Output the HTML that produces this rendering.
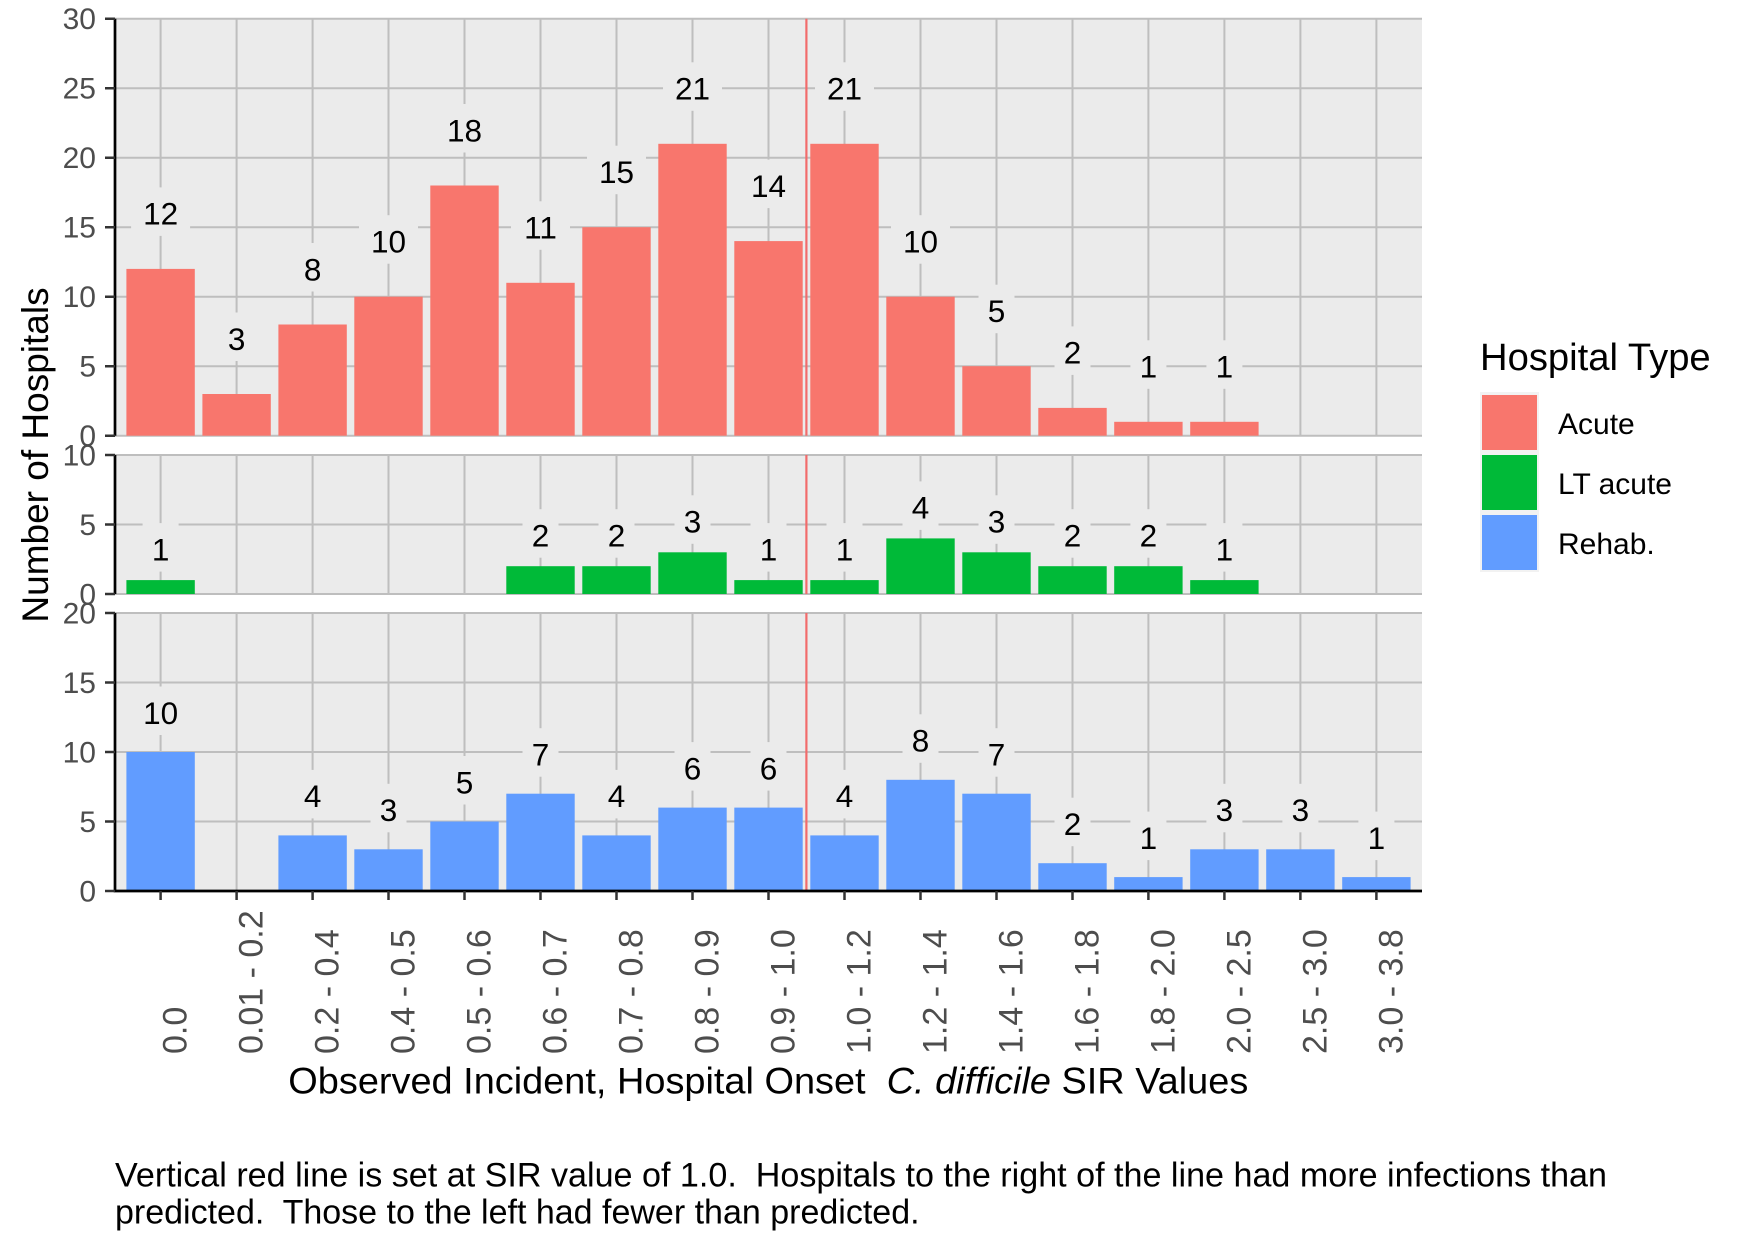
<!DOCTYPE html>
<html><head><meta charset="utf-8"><style>
html,body{margin:0;padding:0;background:#fff;}
svg{display:block;font-family:"Liberation Sans",Arial,sans-serif;}
</style></head><body>
<svg width="1750" height="1250" viewBox="0 0 1750 1250" xmlns="http://www.w3.org/2000/svg">
<rect width="1750" height="1250" fill="#fff"/>
<!-- panels -->
<rect x="115" y="18.7" width="1307" height="417" fill="#EBEBEB"/>
<rect x="115" y="455" width="1307" height="139" fill="#EBEBEB"/>
<rect x="115" y="613" width="1307" height="278" fill="#EBEBEB"/>
<!-- grid -->
<g stroke="#BEBEBE" stroke-width="2" fill="none">
<path d="M115 18.7H1422M115 88.2H1422M115 157.7H1422M115 227.2H1422M115 296.7H1422M115 366.2H1422M115 435.7H1422M115 455H1422M115 524.5H1422M115 594H1422M115 613H1422M115 682.5H1422M115 752H1422M115 821.5H1422M115 891H1422"/>
<path d="M160.6 18.7V435.7M236.6 18.7V435.7M312.6 18.7V435.7M388.5 18.7V435.7M464.5 18.7V435.7M540.5 18.7V435.7M616.5 18.7V435.7M692.5 18.7V435.7M768.5 18.7V435.7M844.5 18.7V435.7M920.5 18.7V435.7M996.5 18.7V435.7M1072.5 18.7V435.7M1148.4 18.7V435.7M1224.4 18.7V435.7M1300.4 18.7V435.7M1376.4 18.7V435.7"/>
<path d="M160.6 455V594M236.6 455V594M312.6 455V594M388.5 455V594M464.5 455V594M540.5 455V594M616.5 455V594M692.5 455V594M768.5 455V594M844.5 455V594M920.5 455V594M996.5 455V594M1072.5 455V594M1148.4 455V594M1224.4 455V594M1300.4 455V594M1376.4 455V594"/>
<path d="M160.6 613V891M236.6 613V891M312.6 613V891M388.5 613V891M464.5 613V891M540.5 613V891M616.5 613V891M692.5 613V891M768.5 613V891M844.5 613V891M920.5 613V891M996.5 613V891M1072.5 613V891M1148.4 613V891M1224.4 613V891M1300.4 613V891M1376.4 613V891"/>
</g>
<!-- top bars (Acute) -->
<g fill="#F8766D">
<rect x="126.4" y="268.9" width="68.4" height="166.8"/>
<rect x="202.4" y="394.0" width="68.4" height="41.7"/>
<rect x="278.4" y="324.5" width="68.4" height="111.2"/>
<rect x="354.3" y="296.7" width="68.4" height="139"/>
<rect x="430.3" y="185.5" width="68.4" height="250.2"/>
<rect x="506.3" y="282.8" width="68.4" height="152.9"/>
<rect x="582.3" y="227.2" width="68.4" height="208.5"/>
<rect x="658.3" y="143.8" width="68.4" height="291.9"/>
<rect x="734.3" y="241.1" width="68.4" height="194.6"/>
<rect x="810.3" y="143.8" width="68.4" height="291.9"/>
<rect x="886.3" y="296.7" width="68.4" height="139"/>
<rect x="962.3" y="366.2" width="68.4" height="69.5"/>
<rect x="1038.3" y="407.9" width="68.4" height="27.8"/>
<rect x="1114.2" y="421.8" width="68.4" height="13.9"/>
<rect x="1190.2" y="421.8" width="68.4" height="13.9"/>
</g>
<!-- middle bars (LT acute) -->
<g fill="#00BA38">
<rect x="126.4" y="580.1" width="68.4" height="13.9"/>
<rect x="506.3" y="566.2" width="68.4" height="27.8"/>
<rect x="582.3" y="566.2" width="68.4" height="27.8"/>
<rect x="658.3" y="552.3" width="68.4" height="41.7"/>
<rect x="734.3" y="580.1" width="68.4" height="13.9"/>
<rect x="810.3" y="580.1" width="68.4" height="13.9"/>
<rect x="886.3" y="538.4" width="68.4" height="55.6"/>
<rect x="962.3" y="552.3" width="68.4" height="41.7"/>
<rect x="1038.3" y="566.2" width="68.4" height="27.8"/>
<rect x="1114.2" y="566.2" width="68.4" height="27.8"/>
<rect x="1190.2" y="580.1" width="68.4" height="13.9"/>
</g>
<!-- bottom bars (Rehab) -->
<g fill="#619CFF">
<rect x="126.4" y="752" width="68.4" height="139"/>
<rect x="278.4" y="835.4" width="68.4" height="55.6"/>
<rect x="354.3" y="849.3" width="68.4" height="41.7"/>
<rect x="430.3" y="821.5" width="68.4" height="69.5"/>
<rect x="506.3" y="793.7" width="68.4" height="97.3"/>
<rect x="582.3" y="835.4" width="68.4" height="55.6"/>
<rect x="658.3" y="807.6" width="68.4" height="83.4"/>
<rect x="734.3" y="807.6" width="68.4" height="83.4"/>
<rect x="810.3" y="835.4" width="68.4" height="55.6"/>
<rect x="886.3" y="779.8" width="68.4" height="111.2"/>
<rect x="962.3" y="793.7" width="68.4" height="97.3"/>
<rect x="1038.3" y="863.2" width="68.4" height="27.8"/>
<rect x="1114.2" y="877.1" width="68.4" height="13.9"/>
<rect x="1190.2" y="849.3" width="68.4" height="41.7"/>
<rect x="1266.2" y="849.3" width="68.4" height="41.7"/>
<rect x="1342.2" y="877.1" width="68.4" height="13.9"/>
</g>
<!-- red vertical line -->
<g stroke="#F26B6B" stroke-width="2.2">
<path d="M806.4 18.7V435.7M806.4 455V594M806.4 613V891"/>
</g>
<!-- label boxes -->
<g fill="#EBEBEB">
<rect x="131.1" y="187.4" width="59" height="48.5"/>
<rect x="218.6" y="312.5" width="36" height="48.5"/>
<rect x="294.6" y="243" width="36" height="48.5"/>
<rect x="359" y="215.2" width="59" height="48.5"/>
<rect x="435" y="104" width="59" height="48.5"/>
<rect x="511" y="201.3" width="59" height="48.5"/>
<rect x="587" y="145.7" width="59" height="48.5"/>
<rect x="663" y="62.3" width="59" height="48.5"/>
<rect x="739" y="159.6" width="59" height="48.5"/>
<rect x="815" y="62.3" width="59" height="48.5"/>
<rect x="891" y="215.2" width="59" height="48.5"/>
<rect x="978.5" y="284.7" width="36" height="48.5"/>
<rect x="1054.5" y="326.4" width="36" height="48.5"/>
<rect x="1130.4" y="340.3" width="36" height="48.5"/>
<rect x="1206.4" y="340.3" width="36" height="48.5"/>

<rect x="142.6" y="523.1" width="36" height="48.5"/>
<rect x="522.5" y="509.2" width="36" height="48.5"/>
<rect x="598.5" y="509.2" width="36" height="48.5"/>
<rect x="674.5" y="495.3" width="36" height="48.5"/>
<rect x="750.5" y="523.1" width="36" height="48.5"/>
<rect x="826.5" y="523.1" width="36" height="48.5"/>
<rect x="902.5" y="481.4" width="36" height="48.5"/>
<rect x="978.5" y="495.3" width="36" height="48.5"/>
<rect x="1054.5" y="509.2" width="36" height="48.5"/>
<rect x="1130.4" y="509.2" width="36" height="48.5"/>
<rect x="1206.4" y="523.1" width="36" height="48.5"/>

<rect x="131.1" y="686.5" width="59" height="48.5"/>
<rect x="294.6" y="769.9" width="36" height="48.5"/>
<rect x="370.5" y="783.8" width="36" height="48.5"/>
<rect x="446.5" y="756" width="36" height="48.5"/>
<rect x="522.5" y="728.2" width="36" height="48.5"/>
<rect x="598.5" y="769.9" width="36" height="48.5"/>
<rect x="674.5" y="742.1" width="36" height="48.5"/>
<rect x="750.5" y="742.1" width="36" height="48.5"/>
<rect x="826.5" y="769.9" width="36" height="48.5"/>
<rect x="902.5" y="714.3" width="36" height="48.5"/>
<rect x="978.5" y="728.2" width="36" height="48.5"/>
<rect x="1054.5" y="797.7" width="36" height="48.5"/>
<rect x="1130.4" y="811.6" width="36" height="48.5"/>
<rect x="1206.4" y="783.8" width="36" height="48.5"/>
<rect x="1282.4" y="783.8" width="36" height="48.5"/>
<rect x="1358.4" y="811.6" width="36" height="48.5"/>
</g>
<!-- value labels -->
<g font-size="31.5" fill="#000" text-anchor="middle">
<text x="160.6" y="224.7">12</text>
<text x="236.6" y="349.8">3</text>
<text x="312.6" y="280.3">8</text>
<text x="388.5" y="252.5">10</text>
<text x="464.5" y="141.3">18</text>
<text x="540.5" y="238.6">11</text>
<text x="616.5" y="183">15</text>
<text x="692.5" y="99.6">21</text>
<text x="768.5" y="196.9">14</text>
<text x="844.5" y="99.6">21</text>
<text x="920.5" y="252.5">10</text>
<text x="996.5" y="322">5</text>
<text x="1072.5" y="363.7">2</text>
<text x="1148.4" y="377.6">1</text>
<text x="1224.4" y="377.6">1</text>

<text x="160.6" y="560.4">1</text>
<text x="540.5" y="546.5">2</text>
<text x="616.5" y="546.5">2</text>
<text x="692.5" y="532.6">3</text>
<text x="768.5" y="560.4">1</text>
<text x="844.5" y="560.4">1</text>
<text x="920.5" y="518.7">4</text>
<text x="996.5" y="532.6">3</text>
<text x="1072.5" y="546.5">2</text>
<text x="1148.4" y="546.5">2</text>
<text x="1224.4" y="560.4">1</text>

<text x="160.6" y="723.8">10</text>
<text x="312.6" y="807.2">4</text>
<text x="388.5" y="821.1">3</text>
<text x="464.5" y="793.3">5</text>
<text x="540.5" y="765.5">7</text>
<text x="616.5" y="807.2">4</text>
<text x="692.5" y="779.4">6</text>
<text x="768.5" y="779.4">6</text>
<text x="844.5" y="807.2">4</text>
<text x="920.5" y="751.6">8</text>
<text x="996.5" y="765.5">7</text>
<text x="1072.5" y="835">2</text>
<text x="1148.4" y="848.9">1</text>
<text x="1224.4" y="821.1">3</text>
<text x="1300.4" y="821.1">3</text>
<text x="1376.4" y="848.9">1</text>
</g>
<!-- axes -->
<g stroke="#000" stroke-width="2.7" fill="none">
<path d="M115 18.7V435.7M115 455V594M115 613V892.3M113.7 891H1422"/>
</g>
<g stroke="#333" stroke-width="2.5" fill="none">
<path d="M105 18.7H115M105 88.2H115M105 157.7H115M105 227.2H115M105 296.7H115M105 366.2H115M105 435.7H115M105 455H115M105 524.5H115M105 594H115M105 613H115M105 682.5H115M105 752H115M105 821.5H115M105 891H115"/>
<path d="M160.6 891V900M236.6 891V900M312.6 891V900M388.5 891V900M464.5 891V900M540.5 891V900M616.5 891V900M692.5 891V900M768.5 891V900M844.5 891V900M920.5 891V900M996.5 891V900M1072.5 891V900M1148.4 891V900M1224.4 891V900M1300.4 891V900M1376.4 891V900"/>
</g>
<g font-size="30" fill="#4D4D4D" text-anchor="end">
<text x="96" y="29.2">30</text>
<text x="96" y="98.7">25</text>
<text x="96" y="168.2">20</text>
<text x="96" y="237.7">15</text>
<text x="96" y="307.2">10</text>
<text x="96" y="376.7">5</text>
<text x="96" y="446.2">0</text>
<text x="96" y="465.5">10</text>
<text x="96" y="535">5</text>
<text x="96" y="604.5">0</text>
<text x="96" y="623.5">20</text>
<text x="96" y="693">15</text>
<text x="96" y="762.5">10</text>
<text x="96" y="832">5</text>
<text x="96" y="901.5">0</text>
</g>
<g font-size="34" fill="#4D4D4D">
<text transform="translate(186.6,1054) rotate(-90)">0.0</text>
<text transform="translate(262.6,1054) rotate(-90)">0.01 - 0.2</text>
<text transform="translate(338.6,1054) rotate(-90)">0.2 - 0.4</text>
<text transform="translate(414.5,1054) rotate(-90)">0.4 - 0.5</text>
<text transform="translate(490.5,1054) rotate(-90)">0.5 - 0.6</text>
<text transform="translate(566.5,1054) rotate(-90)">0.6 - 0.7</text>
<text transform="translate(642.5,1054) rotate(-90)">0.7 - 0.8</text>
<text transform="translate(718.5,1054) rotate(-90)">0.8 - 0.9</text>
<text transform="translate(794.5,1054) rotate(-90)">0.9 - 1.0</text>
<text transform="translate(870.5,1054) rotate(-90)">1.0 - 1.2</text>
<text transform="translate(946.5,1054) rotate(-90)">1.2 - 1.4</text>
<text transform="translate(1022.5,1054) rotate(-90)">1.4 - 1.6</text>
<text transform="translate(1098.5,1054) rotate(-90)">1.6 - 1.8</text>
<text transform="translate(1174.4,1054) rotate(-90)">1.8 - 2.0</text>
<text transform="translate(1250.4,1054) rotate(-90)">2.0 - 2.5</text>
<text transform="translate(1326.4,1054) rotate(-90)">2.5 - 3.0</text>
<text transform="translate(1402.4,1054) rotate(-90)">3.0 - 3.8</text>
</g>
<!-- axis titles -->
<text transform="translate(48,455) rotate(-90)" font-size="37" fill="#000" text-anchor="middle">Number of Hospitals</text>
<text x="288.3" y="1093.3" font-size="37.5" fill="#000" textLength="960" lengthAdjust="spacingAndGlyphs">Observed Incident, Hospital Onset&#160; <tspan font-style="italic">C. difficile</tspan> SIR Values</text>
<!-- legend -->
<text x="1480" y="370" font-size="38.2" fill="#000">Hospital Type</text>
<rect x="1480" y="392" width="59" height="180" fill="#F2F2F2"/>
<rect x="1482" y="395" width="55" height="55" fill="#F8766D"/>
<rect x="1482" y="455" width="55" height="55" fill="#00BA38"/>
<rect x="1482" y="515" width="55" height="55" fill="#619CFF"/>
<g font-size="30" fill="#000">
<text x="1558" y="434">Acute</text>
<text x="1558" y="494">LT acute</text>
<text x="1558" y="554">Rehab.</text>
</g>
<!-- footnote -->
<g font-size="34" fill="#000">
<text x="115" y="1186.7" textLength="1492" lengthAdjust="spacingAndGlyphs">Vertical red line is set at SIR value of 1.0.&#160; Hospitals to the right of the line had more infections than</text>
<text x="115" y="1223.3">predicted.&#160; Those to the left had fewer than predicted.</text>
</g>
</svg>
</body></html>
